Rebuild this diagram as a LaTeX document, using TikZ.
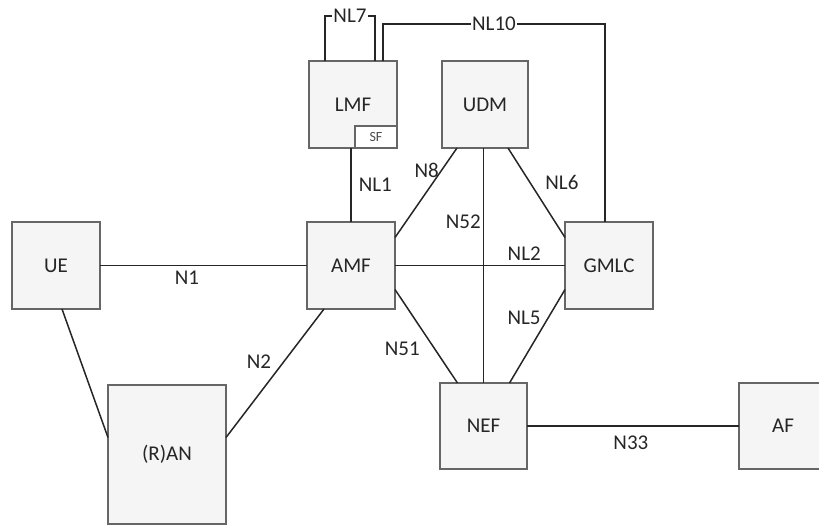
\documentclass[tikz,border=0pt]{standalone}
\usepackage{fontspec}
\setmainfont{Carlito}
\usepackage{tikz}
\usetikzlibrary{positioning}

\begin{document}
\begin{tikzpicture}[x=1pt, y=-1pt, font=\fontsize{21}{23}\selectfont,
  nf/.style={draw=black!60, line width=1.4pt, fill=black!4, minimum width=88pt, minimum height=87pt, inner sep=0pt, outer sep=0pt, text=black!85},
  ln/.style={line width=1.5pt, draw=black!85},
  lbl/.style={inner sep=2pt, text=black!85}]
\useasboundingbox (0,0) rectangle (819,525);
% network functions
\node[nf] (ue) at (56,265.5) {UE};
\node[nf] (amf) at (351,265.5) {AMF};
\node[nf] (gmlc) at (609,265.5) {GMLC};
\node[nf] (lmf) at (353,104.5) {LMF};
\node[nf, minimum width=86pt] (udm) at (485,104.5) {UDM};
\node[nf, minimum width=87pt, minimum height=86pt] (nef) at (483.5,426) {NEF};
\node[nf, minimum height=86pt] (af) at (783,426) {AF};
\node[nf, minimum width=118pt, minimum height=139pt] (ran) at (167,454.5) {(R)AN};
\node[nf, fill=white, minimum width=42pt, minimum height=22pt, anchor=south east, font=\fontsize{14}{15}\selectfont, text=black!70] (sf) at (lmf.south east) {SF};
% reference points
\draw[ln] (ue) -- (amf) node[lbl, pos=.42, below=3pt] {N1};
\draw[ln] (amf.north) -- (amf.north |- lmf.south) node[lbl, midway, right=5pt] {NL1};
\draw[ln] ([xshift=-28pt]udm.south) -- ([yshift=28pt]amf.east) node[lbl, pos=.25, left] {N8};
\draw[ln] (nef.north) -- (nef.north |- udm.south) node[lbl, pos=.685, left] {N52};
\draw[ln] ([xshift=23pt]udm.south) -- ([yshift=28pt]gmlc.west) node[lbl, pos=.38, right=13pt] {NL6};
\draw[ln] (amf) -- (gmlc) node[lbl, pos=.76, above=2pt] {NL2};
\draw[ln] ([yshift=-24pt]amf.east) -- ([xshift=-26pt]nef.north) node[lbl, pos=.63, left=12pt] {N51};
\draw[ln] ([yshift=-24pt]gmlc.west) -- ([xshift=26pt]nef.north) node[lbl, pos=.3, left=5pt] {NL5};
\draw[ln] ([xshift=-27pt]amf.south) -- ([yshift=17pt]ran.east) node[lbl, pos=.41, left=10pt] {N2};
\draw[ln] ([xshift=6pt]ue.south) -- ([yshift=17pt]ran.west);
\draw[ln] (nef) -- (af) node[lbl, pos=.49, below=7pt] {N33};
\draw[ln] ([xshift=-28pt]lmf.north) -- ++(0,-45) -| ([xshift=22pt]lmf.north) node[lbl, pos=.25, fill=white, inner sep=1pt] {NL7};
\draw[ln] ([xshift=30pt]lmf.north) -- ++(0,-37) -| ([xshift=-4pt]gmlc.north) node[lbl, pos=.25, fill=white, inner sep=1pt] {NL10};
\end{tikzpicture}
\end{document}
